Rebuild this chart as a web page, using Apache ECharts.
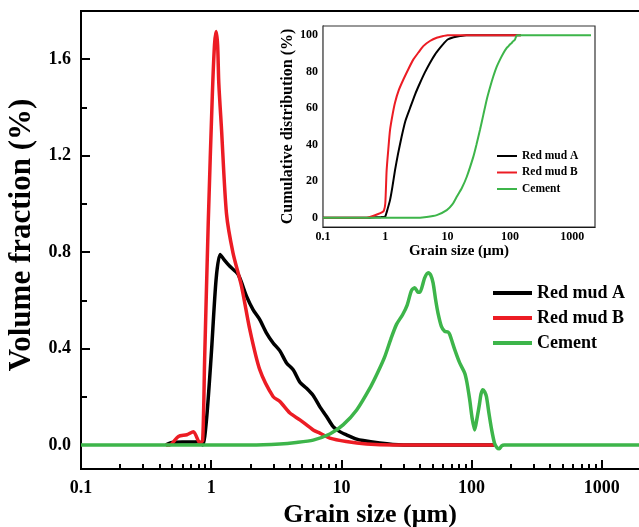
<!DOCTYPE html>
<html>
<head>
<meta charset="utf-8">
<script src="https://cdn.jsdelivr.net/npm/echarts@6/dist/echarts.min.js"></script>
<style>
  html, body { margin: 0; padding: 0; background: #fff; }
  #chart { width: 639px; height: 527px; }
</style>
</head>
<body>
<div id="chart"></div>
<script>
// Particle size distribution (volume fraction, %) vs grain size (µm)
const redMudASize = [0.45, 0.5, 0.6, 0.7, 0.8, 0.86, 0.92, 1.0, 1.09, 1.17, 1.25, 1.39, 1.61, 1.87, 2.1, 2.36, 2.66, 2.99, 3.37, 3.79, 4.26, 4.8, 5.4, 6.07, 6.8, 7.69, 8.64, 9.72, 10.9, 13.1, 14.7, 19.7, 24.8, 30, 150];
const redMudAFreq = [0, 0.01, 0.012, 0.012, 0.013, 0.0, 0.104, 0.37, 0.686, 0.79, 0.77, 0.741, 0.707, 0.616, 0.56, 0.52, 0.464, 0.423, 0.39, 0.34, 0.312, 0.26, 0.235, 0.205, 0.16, 0.118, 0.076, 0.055, 0.042, 0.024, 0.018, 0.008, 0.002, 0, 0];

const redMudBSize = [0.45, 0.48, 0.56, 0.65, 0.73, 0.82, 0.86, 0.89, 0.95, 1.02, 1.06, 1.09, 1.12, 1.144, 1.2, 1.31, 1.47, 1.71, 1.98, 2.36, 2.99, 3.37, 4.02, 4.8, 6.07, 6.83, 8.15, 10.9, 15.6, 25, 150];
const redMudBFreq = [0, 0, 0.035, 0.042, 0.055, 0.007, 0.02, 0.35, 0.93, 1.45, 1.66, 1.715, 1.66, 1.5, 1.31, 0.96, 0.797, 0.658, 0.478, 0.312, 0.2, 0.18, 0.132, 0.104, 0.062, 0.049, 0.028, 0.014, 0.004, 0, 0];

const cementSize = [0.1, 2, 3.37, 4.5, 6.07, 8.15, 10.3, 13.1, 16.8, 19, 21.5, 24, 26.5, 29.5, 32, 34.5, 36.5, 38.5, 40, 43.6, 46.5, 48.5, 50.6, 53, 55.2, 58.6, 62.2, 66, 68, 74.2, 81, 88.5, 92, 96.7, 101, 105.6, 110, 115, 118, 122, 126, 130, 136, 142, 150, 157, 163, 170, 178, 2000];
const cementFreq = [0, 0, 0.004, 0.01, 0.02, 0.045, 0.083, 0.145, 0.242, 0.3, 0.365, 0.44, 0.5, 0.54, 0.58, 0.64, 0.652, 0.635, 0.633, 0.693, 0.714, 0.705, 0.672, 0.6, 0.547, 0.492, 0.471, 0.468, 0.457, 0.395, 0.34, 0.298, 0.26, 0.187, 0.11, 0.062, 0.11, 0.17, 0.21, 0.229, 0.22, 0.2, 0.13, 0.068, 0.007, -0.012, -0.016, -0.004, 0, 0];

// Cumulative distribution (%) for the inset
const redMudACumSize = [0.1, 0.5, 0.6, 0.85, 0.95, 1.0, 1.05, 1.19, 1.3, 1.43, 1.6, 1.83, 2.1, 2.49, 3, 3.6, 4.3, 5.2, 6.3, 7.55, 8.7, 10, 12.5, 15.8, 20, 150];
const redMudACum = [0, 0, 0.2, 0.4, 0.5, 0.8, 3, 9.7, 17, 26, 35, 44.5, 53, 60, 67.5, 73.8, 79.5, 84.8, 89.5, 93, 95.5, 97.6, 98.8, 99.5, 100, 100];

const redMudBCumSize = [0.1, 0.5, 0.6, 0.75, 0.88, 0.95, 1.0, 1.05, 1.12, 1.19, 1.3, 1.43, 1.65, 1.95, 2.35, 2.81, 3.4, 4.07, 5.2, 6.68, 8.5, 10, 150];
const redMudBCum = [0, 0, 0.8, 2, 3, 4, 8, 26, 38, 48, 56, 63, 70, 75.7, 81.5, 86.6, 90.5, 94, 96.8, 98.6, 99.5, 100, 100];

const cementCumSize = [0.1, 3, 4.6, 6.7, 9.7, 12, 14, 17, 20.3, 25.9, 29, 33.1, 37.5, 42.4, 48, 54.2, 61, 69.3, 78, 88.9, 95, 100, 105, 113, 120, 128, 135, 2000];
const cementCum = [0, 0, 0.5, 1.5, 4.2, 7.5, 11.5, 16.5, 22.5, 33.5, 40, 48.2, 56.5, 64.7, 71.5, 77.5, 82.5, 86.6, 90, 93, 94, 94.9, 95.5, 96.7, 97.5, 99.8, 100, 100];

// Axis tick values
const sizeMajorTicks = [0.1, 1, 10, 100, 1000];
const sizeMinorTicks = [];
[0.1, 1, 10, 100, 1000].forEach(d => { for (let k = 2; k <= 9; k++) sizeMinorTicks.push(+(d * k).toPrecision(3)); });
const freqMajorTicks = [0, 0.4, 0.8, 1.2, 1.6];
const freqMinorTicks = [0.2, 0.6, 1.0, 1.4];
const cumMajorTicks = [0, 20, 40, 60, 80, 100];
const cumMinorTicks = [10, 30, 50, 70, 90];

const seriesNames = ['Red mud A', 'Red mud B', 'Cement'];
const seriesColors = ['#000000', '#ec1c24', '#3db54a'];

const pairs = (xs, ys) => xs.map((x, i) => [x, ys[i]]);
const FONT = "'Liberation Serif', 'Times New Roman', serif";

function sizeAxis(gridIndex, max, tickLen, labelSize, labelMargin, name, nameGap, nameSize, namePadding) {
  const w = gridIndex === 0 ? 2 : 1;
  return [
    {
      type: 'log', logBase: 10, gridIndex, min: 0.1, max, position: 'bottom',
      axisLine: { show: true, onZero: false, lineStyle: { color: '#000', width: gridIndex === 0 ? 2 : 1.2 } },
      axisTick: { show: true, inside: true, length: tickLen, customValues: sizeMajorTicks, lineStyle: { color: '#000', width: w } },
      axisLabel: { show: true, customValues: sizeMajorTicks, formatter: v => String(v), margin: labelMargin,
        fontFamily: FONT, fontWeight: 'bold', fontSize: labelSize, color: '#000' },
      splitLine: { show: false }, minorTick: { show: false },
      name, nameLocation: 'middle', nameGap,
      nameTextStyle: { fontFamily: FONT, fontWeight: 'bold', fontSize: nameSize, color: '#000', padding: namePadding }
    },
    {
      type: 'log', logBase: 10, gridIndex, min: 0.1, max, position: 'bottom',
      axisLine: { show: false, onZero: false },
      axisTick: { show: true, inside: true, length: Math.round(tickLen * 0.55), customValues: sizeMinorTicks, lineStyle: { color: '#000', width: w } },
      axisLabel: { show: false }, splitLine: { show: false }
    }
  ];
}

function valueAxis(gridIndex, min, max, major, minor, tickLen, labelSize, labelMargin, fmt, name, nameGap, nameSize, namePadding) {
  const w = gridIndex === 0 ? 2 : 1;
  return [
    {
      type: 'value', gridIndex, min, max, position: 'left',
      axisLine: { show: true, onZero: false, lineStyle: { color: '#000', width: gridIndex === 0 ? 2 : 1.2 } },
      axisTick: { show: true, inside: true, length: tickLen, customValues: major, lineStyle: { color: '#000', width: w } },
      axisLabel: { show: true, customValues: major, formatter: fmt, margin: labelMargin,
        fontFamily: FONT, fontWeight: 'bold', fontSize: labelSize, color: '#000' },
      splitLine: { show: false },
      name, nameLocation: 'middle', nameGap, nameRotate: 90,
      nameTextStyle: { fontFamily: FONT, fontWeight: 'bold', fontSize: nameSize, color: '#000', padding: namePadding }
    },
    {
      type: 'value', gridIndex, min, max, position: 'left',
      axisLine: { show: false, onZero: false },
      axisTick: { show: true, inside: true, length: Math.round(tickLen * 0.65), customValues: minor, lineStyle: { color: '#000', width: w } },
      axisLabel: { show: false }, splitLine: { show: false }
    }
  ];
}

const mainData = [pairs(redMudASize, redMudAFreq), pairs(redMudBSize, redMudBFreq), pairs(cementSize, cementFreq)];
const cumData = [pairs(redMudACumSize, redMudACum), pairs(redMudBCumSize, redMudBCum), pairs(cementCumSize, cementCum)];

const series = [];
seriesNames.forEach((n, i) => {
  series.push({
    type: 'line', name: n, xAxisIndex: 0, yAxisIndex: 0, data: mainData[i],
    showSymbol: false, smooth: 0.25, color: seriesColors[i],
    lineStyle: { color: seriesColors[i], width: 3.5 }, z: 3 + (i === 2 ? 1 : 0)
  });
});
seriesNames.forEach((n, i) => {
  series.push({
    type: 'line', name: n, xAxisIndex: 2, yAxisIndex: 2, data: cumData[i],
    showSymbol: false, smooth: 0.2, color: seriesColors[i],
    lineStyle: { color: seriesColors[i], width: 2 }, z: 5
  });
});

const chart = echarts.init(document.getElementById('chart'), null, { renderer: 'canvas' });
chart.setOption({
  animation: false,
  backgroundColor: '#fff',
  grid: [
    { left: 81, top: 11, right: -2, bottom: 58, outerBoundsMode: 'none', containLabel: false,
      show: true, borderColor: '#000', borderWidth: 2, backgroundColor: 'transparent' },
    { left: 323, top: 26, width: 272, height: 201, outerBoundsMode: 'none', containLabel: false,
      show: true, borderColor: '#333', borderWidth: 1.2, backgroundColor: '#fff', z: 2 }
  ],
  xAxis: [
    ...sizeAxis(0, 2000, 9, 18, 10, 'Grain size (μm)', 32, 26, [0, 0, 0, 18]),
    ...sizeAxis(1, 2320, 5, 12, 4, 'Grain size (μm)', 16, 15, 0)
  ],
  yAxis: [
    ...valueAxis(0, -0.1, 1.8, freqMajorTicks, freqMinorTicks, 9, 18, 10, v => v.toFixed(1), 'Volume fraction (%)', 35, 31, [0, 0, 0, 10]),
    ...valueAxis(1, -5, 105, cumMajorTicks, cumMinorTicks, 5, 12, 5, v => String(v), 'Cumulative distribution (%)', 19, 16, 0)
  ],
  legend: [
    {
      data: seriesNames, orient: 'vertical', left: 493, top: 284, padding: 0,
      itemWidth: 39, itemHeight: 4, itemGap: 7, icon: 'rect',
      textStyle: { fontFamily: FONT, fontWeight: 'bold', fontSize: 18, color: '#000', lineHeight: 18 },
      selectedMode: false
    },
    {
      data: seriesNames, orient: 'vertical', left: 497, top: 150, padding: 0,
      itemWidth: 20, itemHeight: 2, itemGap: 4.5, icon: 'rect',
      textStyle: { fontFamily: FONT, fontWeight: 'bold', fontSize: 11.5, color: '#000', lineHeight: 12 },
      selectedMode: false
    }
  ],
  series
});
</script>
</body>
</html>
